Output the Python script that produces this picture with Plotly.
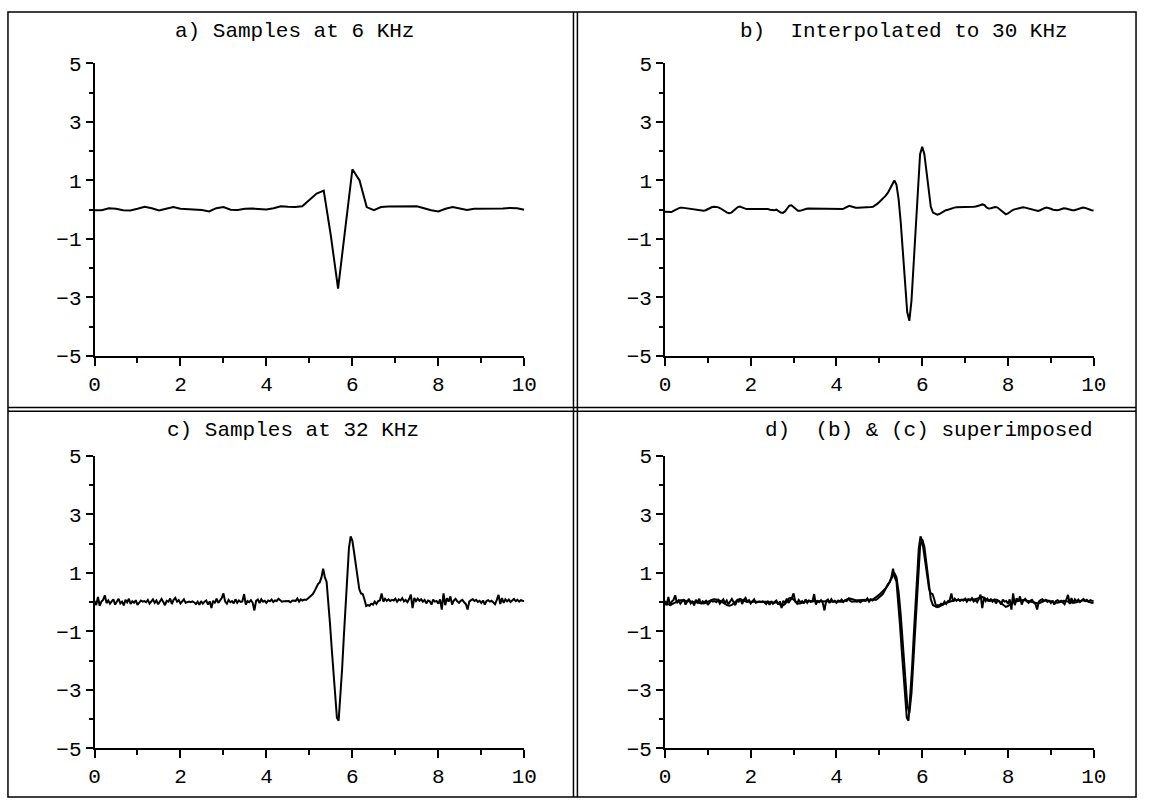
import plotly.graph_objects as go

# ---------------- data ----------------
# a) samples at 6 KHz (dt = 1/6 ms), x from 0 to 10
samples_6k = [-0.02, -0.02, 0.05, 0.03, -0.02, -0.03, 0.03, 0.10, 0.05, -0.03,
              0.03, 0.09, 0.03, 0.02, 0.01, -0.01, -0.06, 0.05, 0.09, 0.00,
              -0.01, 0.03, 0.04, 0.02, 0.01, 0.05, 0.12, 0.10, 0.09, 0.12,
              0.33, 0.55, 0.65, -0.90, -2.70, -0.75, 1.38, 1.00, 0.09, -0.02,
              0.09, 0.11, 0.11, 0.12, 0.13, 0.12, 0.05, -0.02, -0.06, 0.03,
              0.09, 0.03, -0.01, 0.03, 0.03, 0.03, 0.03, 0.04, 0.06, 0.05,
              0.00]
step_6k = 1 / 6

# b) interpolated to 30 KHz (read every 0.05)
interp_30k = [
    -0.07, -0.08, -0.09, -0.08, -0.04, 0.00, 0.04, 0.07, 0.07, 0.06, 0.04, 0.02, 0.01, 0.00, 0.00, -0.01, -0.03, -0.04, -0.04, -0.02,
    0.02, 0.06, 0.09, 0.10, 0.10, 0.08, 0.04, -0.01, -0.06, -0.10, -0.12, -0.10, -0.04, 0.03, 0.09, 0.11, 0.08, 0.04, 0.02, 0.02,
    0.02, 0.02, 0.02, 0.02, 0.02, 0.01, 0.02, 0.03, 0.02, 0.00, -0.02, -0.02, 0.00, -0.04, -0.10, -0.11, -0.06, 0.04, 0.14, 0.15,
    0.08, 0.00, -0.04, -0.04, -0.01, 0.02, 0.03, 0.04, 0.04, 0.04, 0.03, 0.02, 0.02, 0.02, 0.02, 0.02, 0.03, 0.03, 0.03, 0.04,
    0.04, 0.04, 0.03, 0.02, 0.06, 0.11, 0.13, 0.11, 0.08, 0.07, 0.07, 0.07, 0.07, 0.07, 0.07, 0.08, 0.09, 0.10, 0.14, 0.20,
    0.26, 0.33, 0.40, 0.48, 0.58, 0.72, 0.90, 1.00, 0.85, 0.35, -0.45, -1.45, -2.55, -3.50, -3.80, -3.10, -1.85, -0.45, 0.95, 1.90,
    2.15, 1.90, 1.30, 0.60, 0.10, -0.10, -0.15, -0.17, -0.15, -0.10, -0.05, -0.02, 0.00, 0.03, 0.05, 0.07, 0.08, 0.08, 0.08, 0.08,
    0.09, 0.09, 0.10, 0.10, 0.10, 0.11, 0.12, 0.15, 0.18, 0.16, 0.08, 0.04, 0.05, 0.08, 0.09, 0.08, 0.02, -0.06, -0.13, -0.16,
    -0.13, -0.07, -0.02, 0.01, 0.03, 0.05, 0.07, 0.08, 0.07, 0.05, 0.02, 0.00, -0.02, -0.04, -0.04, -0.02, 0.02, 0.05, 0.07, 0.06,
    0.03, 0.00, -0.02, -0.02, 0.00, 0.03, 0.05, 0.04, 0.02, -0.01, -0.02, -0.02, 0.00, 0.03, 0.06, 0.07, 0.06, 0.03, 0.00, -0.02,
    -0.03]
step_30k = 0.05

# c) samples at 32 KHz (read every 0.04)
samples_32k = [
    0.05, -0.10, 0.18, -0.12, 0.02, 0.08, 0.24, -0.03, 0.06, -0.05, 0.03, 0.10, -0.08, 0.05, 0.12, -0.04, 0.02, -0.11, 0.08, 0.00, 0.12, -0.06, 0.03, -0.02, 0.07,
    -0.09, -0.03, 0.06, 0.02, 0.04, 0.00, 0.08, -0.05, 0.03, 0.10, -0.02, 0.06, -0.07, 0.04, 0.11, 0.01, -0.10, 0.05, 0.02, 0.13, -0.06, 0.08, 0.15, 0.02, 0.07,
    -0.04, 0.03, 0.10, -0.02, 0.01, 0.02, 0.00, 0.03, -0.01, -0.06, 0.02, -0.09, 0.04, -0.05, 0.02, 0.06, -0.08, 0.03, -0.20, 0.05, -0.03, 0.12, -0.02, 0.06, 0.14,
    0.30, 0.02, -0.05, 0.08, 0.00, 0.04, -0.04, 0.10, -0.02, 0.06, 0.01, 0.03, 0.28, -0.08, 0.04, 0.00, 0.07, -0.02, -0.28, 0.05, 0.09, -0.03, 0.10, 0.02, 0.05,
    -0.02, 0.06, 0.03, 0.09, 0.01, 0.06, 0.04, 0.12, 0.05, 0.02, 0.03, 0.03, 0.02, 0.04, 0.00, 0.05, 0.06, 0.04, 0.13, 0.02, 0.10, 0.06, 0.09, 0.08, 0.12,
    0.18, 0.22, 0.28, 0.38, 0.50, 0.62, 0.68, 0.85, 1.15, 0.85, 0.70, 0.10, -0.75, -1.60, -2.45, -3.30, -3.95, -4.05, -3.30, -2.30, -1.20, -0.10, 1.00, 1.85, 2.25,
    2.10, 1.70, 1.25, 0.80, 0.45, 0.30, 0.28, 0.10, -0.13, -0.10, -0.12, -0.05, -0.08, 0.02, -0.06, 0.04, 0.06, 0.30, 0.02, 0.12, 0.05, 0.10, 0.04, 0.08, 0.06,
    0.12, 0.02, 0.10, 0.06, 0.14, 0.03, 0.08, 0.00, 0.11, 0.26, -0.20, 0.15, 0.04, 0.12, 0.05, 0.10, 0.02, 0.08, -0.04, 0.06, 0.03, -0.08, 0.09, 0.02, 0.04,
    -0.05, 0.10, -0.25, 0.30, -0.10, 0.14, 0.02, 0.20, -0.08, 0.06, 0.12, 0.03, -0.02, 0.05, 0.08, 0.00, -0.06, -0.25, 0.02, 0.07, 0.10, 0.04, 0.08, 0.01, 0.05,
    -0.03, 0.06, -0.08, 0.04, 0.07, 0.02, 0.05, 0.00, -0.07, 0.08, 0.25, -0.06, 0.14, -0.02, 0.10, 0.03, 0.09, 0.01, 0.06, 0.11, 0.04, 0.08, 0.02, 0.07, 0.05,
    0.04]
step_32k = 0.04

titles = ["a) Samples at 6 KHz", "b)  Interpolated to 30 KHz",
          "c) Samples at 32 KHz", "d)  (b) & (c) superimposed"]

# ---------------- layout helpers ----------------
W, H = 1151, 812
FONT = "Liberation Mono, Courier New, monospace"


def px_x(p):
    return p / W


def px_y(p):
    return 1 - p / H


cols = [(90, 527), (670, 1106)]
rows = [(55, 356), (459, 760)]
title_pos = [(293, 22), (913, 22), (292, 433), (939, 433)]

fig = go.Figure()
line = dict(color="black", width=2)

panels = [
    [(samples_6k, step_6k)],
    [(interp_30k, step_30k)],
    [(samples_32k, step_32k)],
    [(interp_30k, step_30k), (samples_32k, step_32k)],
]

layout = {}
for i, series in enumerate(panels):
    n = i + 1
    suffix = "" if n == 1 else str(n)
    for vals, dx in series:
        fig.add_trace(go.Scatter(y=vals, x0=0, dx=dx, mode="lines", line=line,
                                 xaxis="x" + suffix, yaxis="y" + suffix,
                                 showlegend=False, hoverinfo="skip"))
    c = cols[i % 2]
    r = rows[i // 2]
    common = dict(showline=True, linecolor="black", linewidth=1.5,
                  showgrid=False, zeroline=False, ticks="outside",
                  tickcolor="black", tickwidth=1.5,
                  tickfont=dict(family=FONT, size=21, color="black"),
                  fixedrange=True)
    layout["xaxis" + suffix] = dict(
        domain=[px_x(c[0]), px_x(c[1])], range=[0, 10], tick0=0, dtick=2,
        ticklen=8, anchor="y" + suffix,
        minor=dict(dtick=1, ticks="outside", ticklen=5, tickcolor="black", tickwidth=1.5),
        **common)
    layout["yaxis" + suffix] = dict(
        domain=[px_y(r[1]), px_y(r[0])], range=[-5, 5], tick0=-5, dtick=2,
        ticklen=7, anchor="x" + suffix,
        minor=dict(dtick=1, ticks="outside", ticklen=4, tickcolor="black", tickwidth=1.5),
        **common)

annotations = []
for t, (tx, ty) in zip(titles, title_pos):
    annotations.append(dict(text=t, x=px_x(tx), y=px_y(ty), xref="paper", yref="paper",
                            xanchor="center", yanchor="middle", showarrow=False,
                            font=dict(family=FONT, size=21, color="black")))

shapes = []
bl = dict(color="black", width=1.5)
# outer frame
shapes.append(dict(type="rect", xref="paper", yref="paper",
                   x0=px_x(2), x1=px_x(1149), y0=px_y(810), y1=px_y(2), line=bl))
# double dividers
for xv in (577, 581):
    shapes.append(dict(type="line", xref="paper", yref="paper",
                       x0=px_x(xv), x1=px_x(xv), y0=px_y(810), y1=px_y(2), line=bl))
for yv in (409, 413):
    shapes.append(dict(type="line", xref="paper", yref="paper",
                       x0=px_x(2), x1=px_x(1149), y0=px_y(yv), y1=px_y(yv), line=bl))

fig.update_layout(width=W, height=H, margin=dict(l=0, r=0, t=0, b=0),
                  paper_bgcolor="white", plot_bgcolor="white",
                  annotations=annotations, shapes=shapes, **layout)

fig.write_html("out.html")
